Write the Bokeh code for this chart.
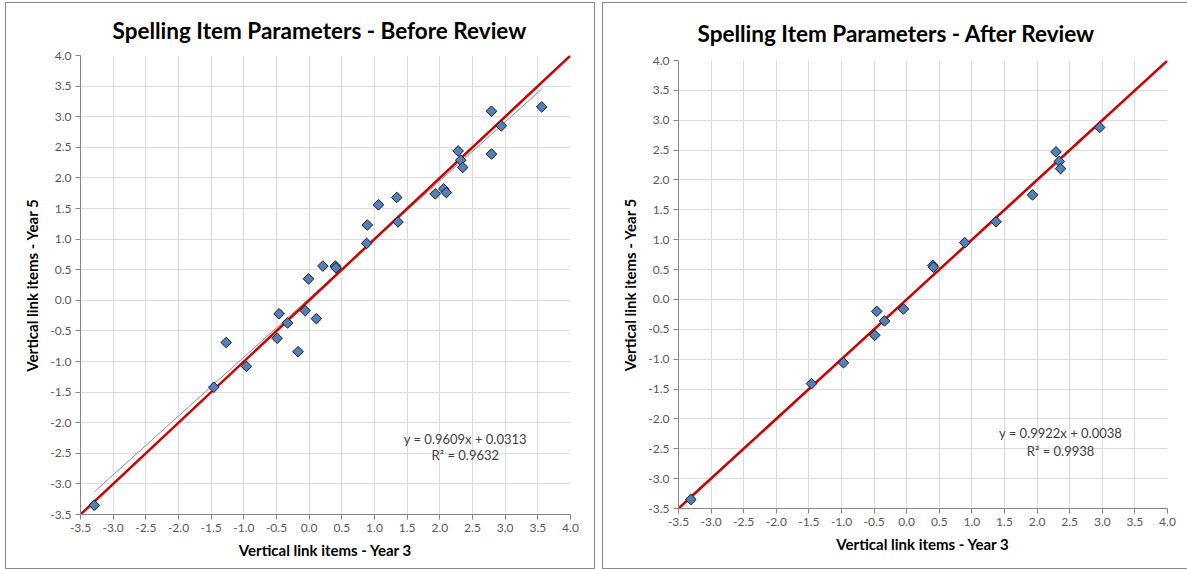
import numpy as np
from bokeh.plotting import figure
from bokeh.layouts import row, column
from bokeh.models import FixedTicker, NumeralTickFormatter, Range1d
from bokeh.core.properties import value
from bokeh.embed import file_html
from bokeh.resources import INLINE

# ---- data ----
before_x = [3.56, 2.79, 2.94, 2.28, 2.32, 2.35, 2.79, 1.93, 2.06, 2.10, 1.34, 1.06,
            1.36, 0.89, 0.88, 0.21, 0.40, 0.41, -0.01, -0.46, -0.33, -0.06, 0.11,
            -1.27, -0.49, -0.17, -0.96, -1.46, -3.29]
before_y = [3.16, 3.09, 2.85, 2.44, 2.29, 2.17, 2.39, 1.74, 1.82, 1.76, 1.68, 1.56,
            1.28, 1.23, 0.93, 0.56, 0.56, 0.53, 0.35, -0.22, -0.37, -0.17, -0.30,
            -0.69, -0.62, -0.84, -1.08, -1.42, -3.35]

after_x = [2.96, 2.29, 2.34, 2.36, 1.93, 1.37, 0.89, 0.40, 0.41, -0.46, -0.34,
           -0.49, -0.05, -0.97, -1.46, -3.31]
after_y = [2.88, 2.47, 2.31, 2.19, 1.75, 1.30, 0.95, 0.57, 0.54, -0.20, -0.36,
           -0.60, -0.16, -1.06, -1.41, -3.35]

axis_ticks = [-3.5, -3.0, -2.5, -2.0, -1.5, -1.0, -0.5, 0.0, 0.5, 1.0, 1.5, 2.0,
              2.5, 3.0, 3.5, 4.0]

fit_before = {"slope": 0.9609, "intercept": 0.0313, "r2": 0.9632}
fit_after = {"slope": 0.9922, "intercept": 0.0038, "r2": 0.9938}

titles = ["Spelling Item Parameters - Before Review",
          "Spelling Item Parameters - After Review"]
x_label = "Vertical link items - Year 3"
y_label = "Vertical link items - Year 5"

FONT = "Lato"


def make_panel(xs, ys, fit, title, frame, mb, margin, title_offset,
               title_standoff, eq_pos):
    left, right, top, bottom = mb
    fw, fh = frame
    p = figure(frame_width=fw, frame_height=fh, output_backend="svg",
               toolbar_location=None,
               x_range=Range1d(axis_ticks[0], axis_ticks[-1]),
               y_range=Range1d(axis_ticks[0], axis_ticks[-1]),
               min_border_left=left, min_border_right=right,
               min_border_top=top, min_border_bottom=bottom,
               background_fill_color="white", border_fill_color="white",
               margin=margin)
    p.outline_line_color = None
    p.styles = {"outline": "1px solid #8a8a8a", "outline-offset": "0px"}

    p.title.text = title
    p.title.align = "left"
    p.title.text_font = FONT
    p.title.text_font_size = "22.5px"
    p.title.text_font_style = "bold"
    p.title.text_color = "#000000"
    p.title.offset = title_offset
    p.title.standoff = title_standoff

    for ax in (p.xaxis[0], p.yaxis[0]):
        ax.ticker = FixedTicker(ticks=axis_ticks)
        ax.formatter = NumeralTickFormatter(format="0.0")
        ax.minor_tick_line_color = None
        ax.major_tick_in = 0
        ax.major_tick_out = 5
        ax.major_tick_line_color = "#868686"
        ax.axis_line_color = "#868686"
        ax.major_label_text_font = FONT
        ax.major_label_text_font_size = "12px"
        ax.major_label_text_color = "#595959"
        ax.axis_label_text_font = FONT
        ax.axis_label_text_font_size = "15px"
        ax.axis_label_text_font_style = "bold"
        ax.axis_label_text_color = "#000000"
        ax.major_label_standoff = 4
        ax.axis_label_standoff = 6
    p.xaxis.axis_label = x_label
    p.yaxis.axis_label = y_label

    p.grid.ticker = FixedTicker(ticks=axis_ticks)
    p.grid.grid_line_color = "#dcdcdc"
    p.grid.grid_line_width = 1

    # trend line (from fit coefficients, spanning the data)
    x0, x1 = min(xs), max(xs)
    p.line([x0, x1], [fit["slope"] * x0 + fit["intercept"],
                      fit["slope"] * x1 + fit["intercept"]],
           line_color="#8f8f8f", line_width=1)
    # identity line
    p.line([axis_ticks[0], axis_ticks[-1]], [axis_ticks[0], axis_ticks[-1]],
           line_color="#cc0000", line_width=2.5)

    p.scatter(xs, ys, marker="square", angle=np.pi / 4, size=7.5,
              fill_color="#4f81bd", line_color="#1a1a1a", line_width=1)

    ex, ey1, ey2 = eq_pos
    p.text([ex, ex], [ey1, ey2],
           text=[f"y = {fit['slope']:.4f}x + {fit['intercept']:.4f}",
                 f"R\u00b2 = {fit['r2']:.4f}"],
           text_font=value(FONT), text_font_size="13px", text_color="#404040",
           text_align="center", text_baseline="middle")
    return p


p1 = make_panel(before_x, before_y, fit_before, titles[0], (490, 459),
                (74, 24, 52, 54), (3, 0, 0, 6), 32, 23, (2.39, -2.26, -2.53))
p2 = make_panel(after_x, after_y, fit_after, titles[1], (489, 448),
                (75, 20, 57, 60), (3, 0, 0, 9), 19, 28, (2.36, -2.23, -2.53))

layout = row(column(p1), column(p2), spacing=0)
open("out.html", "w").write(file_html(layout, INLINE))
